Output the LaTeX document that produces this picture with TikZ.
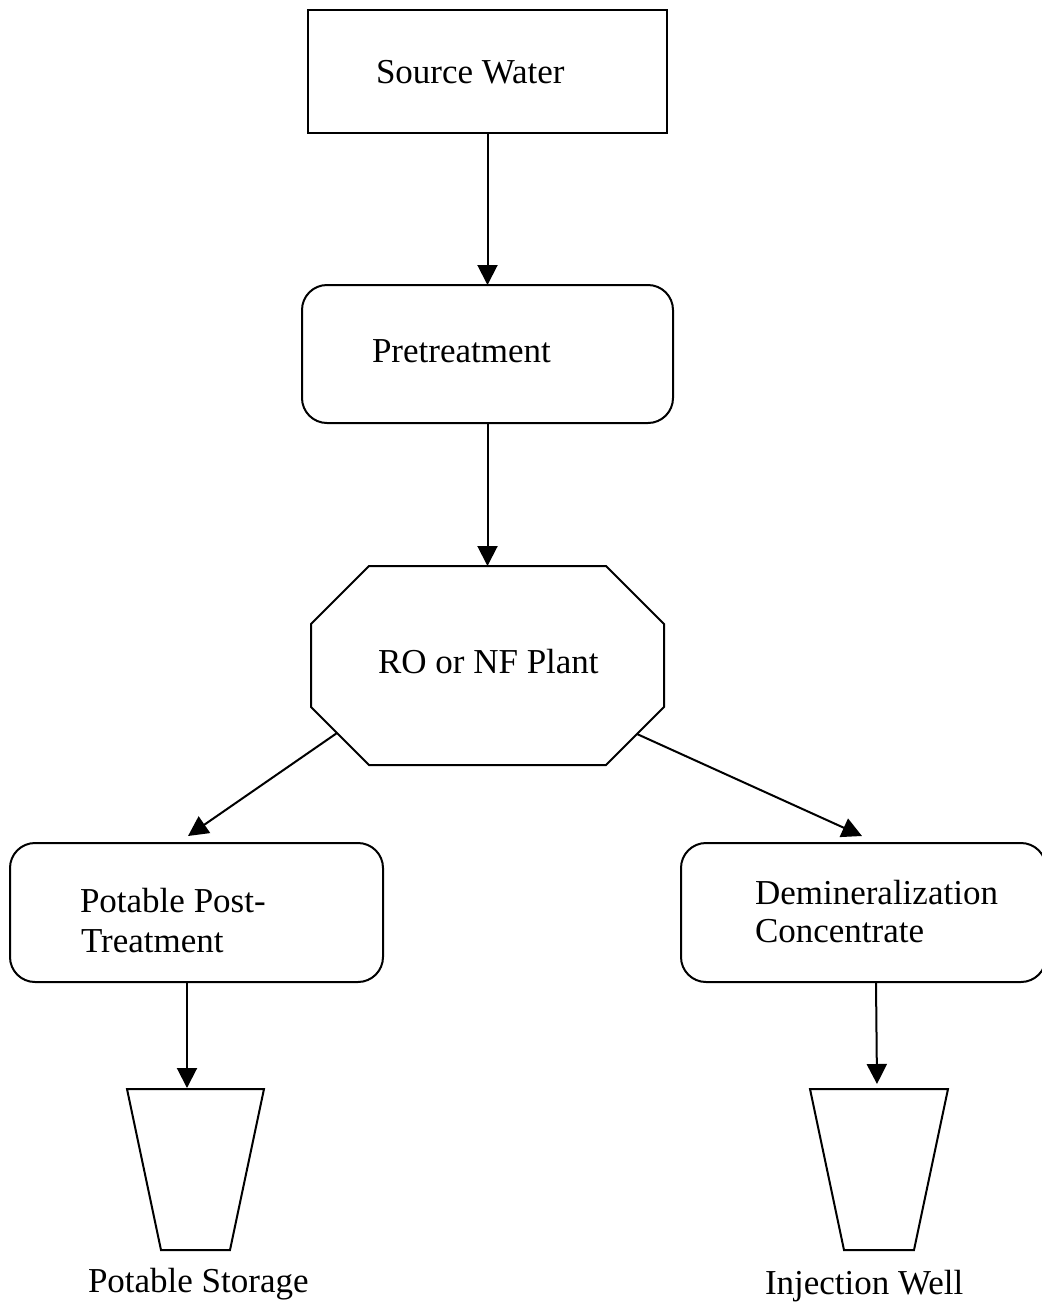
\documentclass[tikz,border=0pt]{standalone}
\usepackage{fontspec}
\setmainfont{Liberation Serif}
\usetikzlibrary{arrows.meta}
\begin{document}
\begin{tikzpicture}[x=0.5pt,y=-0.5pt,
  every node/.style={inner sep=0pt, outer sep=0pt},
  shapeline/.style={draw=black, line width=1pt, line join=miter},
  sqbox/.style={shapeline, rectangle},
  rbox/.style={shapeline, rectangle, rounded corners=12.5pt},
  txt/.style={font=\fontsize{17.5}{20}\selectfont, anchor=base west},
  arr/.style={line width=1pt, -{Triangle[width=10pt,length=10pt]}}
]
\useasboundingbox (0,0) rectangle (1042,1302);

\node[sqbox, minimum width=179.5pt, minimum height=61.5pt] (src) at (487.5,71.5) {};
\node[txt] (srct) at (376,83) {Source Water};

\node[rbox, minimum width=185.5pt, minimum height=69pt] (pre) at (487.5,354) {};
\node[txt] (pret) at (372,362) {Pretreatment};

% octagon (RO or NF Plant)
\draw[shapeline] (311,624) -- (369,566) -- (606,566) -- (664,624) -- (664,707) -- (606,765) -- (369,765) -- (311,707) -- cycle;
\coordinate (rotop) at (487.5,566);
\coordinate (roL) at (337,733);
\coordinate (roR) at (637,734);
\node[txt] (rot) at (378,673) {RO or NF Plant};

\node[rbox, minimum width=186.5pt, minimum height=69.5pt] (pot) at (196.5,912.5) {};
\node[txt] (pott1) at (80,912) {Potable Post-};
\node[txt] (pott2) at (81,952) {Treatment};

\node[rbox, minimum width=182.5pt, minimum height=69.5pt] (dem) at (863.5,912.5) {};
\node[txt] (demt1) at (755,904) {Demineralization};
\node[txt] (demt2) at (755,942) {Concentrate};

% tanks
\draw[shapeline] (127,1089) -- (264,1089) -- (230,1250) -- (161,1250) -- cycle;
\coordinate (tk1top) at (187,1088);
\node[txt] (tk1t) at (88,1292) {Potable Storage};

\draw[shapeline] (810,1089) -- (948,1089) -- (914,1250) -- (844,1250) -- cycle;
\coordinate (tk2top) at (877,1084);
\node[txt] (tk2t) at (765,1294) {Injection Well};

\draw[arr] (src.south) -- (pre.north);
\draw[arr] (pre.south) -- (rotop);
\draw[arr] (roL) -- ([xshift=-4.25pt,yshift=3.5pt]pot.north);
\draw[arr] (roR) -- ([xshift=-0.75pt,yshift=3.5pt]dem.north);
\draw[arr] ([xshift=-4.75pt]pot.south) -- (tk1top);
\draw[arr] ([xshift=6.25pt]dem.south) -- (tk2top);
\end{tikzpicture}
\end{document}
